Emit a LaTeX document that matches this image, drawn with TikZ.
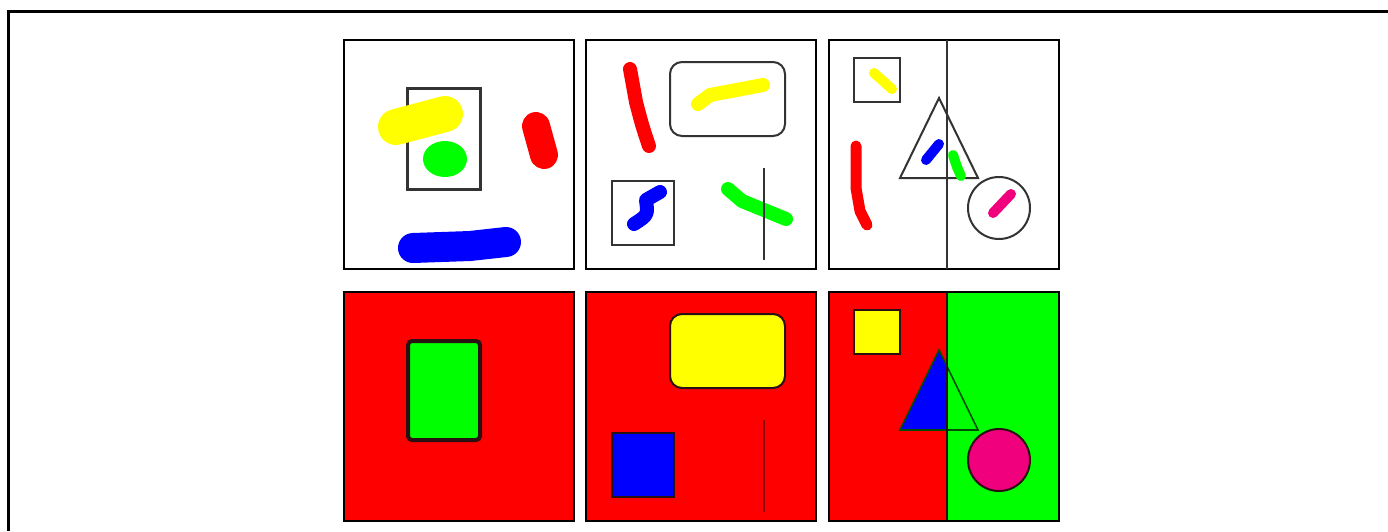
\documentclass[tikz,border=0pt]{standalone}
\usepackage{tikz}
\definecolor{sceneRed}{HTML}{FF0000}
\definecolor{sceneGreen}{HTML}{00FF00}
\definecolor{sceneBlue}{HTML}{0000FF}
\definecolor{sceneYellow}{HTML}{FFFF00}
\definecolor{scenePink}{HTML}{F0007C}
\definecolor{sceneEdge}{HTML}{2A1010}
\usetikzlibrary{calc}

\begin{document}
\begin{tikzpicture}[x=0.5pt, y=-0.5pt,
    frame/.style={draw=black, line width=1.5pt},
    panel/.style={draw=black, line width=1pt},
    outline/.style={draw=black!80, line width=1pt},
    darkline/.style={draw=sceneEdge, line width=1pt},
    blob/.style={line width=#1, line cap=round, line join=round}
  ]
    \useasboundingbox (0,0) rectangle (1388,531);
    \draw[frame] (8,531) -- (8,11) -- (1388,11);

    % top row: the scribbles
    % panel 1
    \draw[panel, fill=white] (344,40) rectangle (574,269);
    \draw[outline, line width=1.5pt] (407,88) rectangle (480,189);
    \draw[sceneYellow, blob=18pt] (396,127) -- (445,114);
    \fill[sceneGreen] (445,159) ellipse (22 and 18);
    \draw[sceneRed, blob=14pt] (536,126) -- (544,155);
    \draw[sceneBlue, blob=15pt] (413,248) -- (470,246) -- (506,242);

    % panel 2
    \draw[panel, fill=white] (586,40) rectangle (816,269);
    \draw[outline, rounded corners=6pt] (670,62) rectangle (785,136);
    \draw[sceneRed, blob=7pt] (630,69) -- (636,102) .. controls (642,125) .. (649,146);
    \draw[sceneYellow, blob=7pt] (698,104) -- (710,95) -- (763,85);
    \draw[outline] (612,181) rectangle (674,245);
    \draw[sceneBlue, blob=7pt] (660,192) -- (646,200) .. controls (648,215) .. (634,224);
    \draw[sceneGreen, blob=7pt] (728,189) -- (742,201) -- (786,219);
    \draw[outline] (764,168) -- (764,260);

    % panel 3
    \draw[panel, fill=white] (829,40) rectangle (1059,269);
    \draw[outline] (947,40) -- (947,269);
    \draw[outline] (854,58) rectangle (900,102);
    \draw[sceneYellow, blob=5pt] (874,73) -- (892,89);
    \draw[outline] (939,98) -- (978,178) -- (900,178) -- cycle;
    \draw[sceneBlue, blob=5pt] (939,144) -- (926,160);
    \draw[sceneGreen, blob=5pt] (953,155) -- (957,167) -- (961,176);
    \draw[outline] (999,208) circle (31);
    \draw[scenePink, blob=5pt] (1011,194) -- (993,213);
    \draw[sceneRed, blob=5.5pt] (856,146) -- (856,188) -- (860,211) -- (867,225);

    % bottom row: the filled scenes
    % panel 4
    \draw[panel, fill=sceneRed] (344,292) rectangle (574,521);
    \draw[draw=sceneEdge, line width=2pt, rounded corners=2pt, fill=sceneGreen]
      (408,341) rectangle (480,440);

    % panel 5
    \draw[panel, fill=sceneRed] (586,292) rectangle (816,521);
    \draw[darkline, rounded corners=6pt, fill=sceneYellow] (670,314) rectangle (785,388);
    \draw[darkline, fill=sceneBlue] (612,433) rectangle (674,497);
    \draw[draw=sceneRed!55!black, line width=1pt] (764,420) -- (764,512);

    % panel 6
    \fill[sceneRed] (829,292) rectangle (947,521);
    \fill[sceneGreen] (947,292) rectangle (1059,521);
    \begin{scope}
      \clip (829,292) rectangle (947,521);
      \fill[sceneBlue] (939,350) -- (978,430) -- (900,430) -- cycle;
    \end{scope}
    \draw[draw=black!70!green, line width=0.8pt] (939,350) -- (978,430) -- (900,430) -- cycle;
    \draw[darkline, fill=sceneYellow] (854,310) rectangle (900,354);
    \draw[darkline, fill=scenePink] (999,460) circle (31);
    \draw[darkline] (947,292) -- (947,521);
    \draw[panel] (829,292) rectangle (1059,521);
\end{tikzpicture}
\end{document}
